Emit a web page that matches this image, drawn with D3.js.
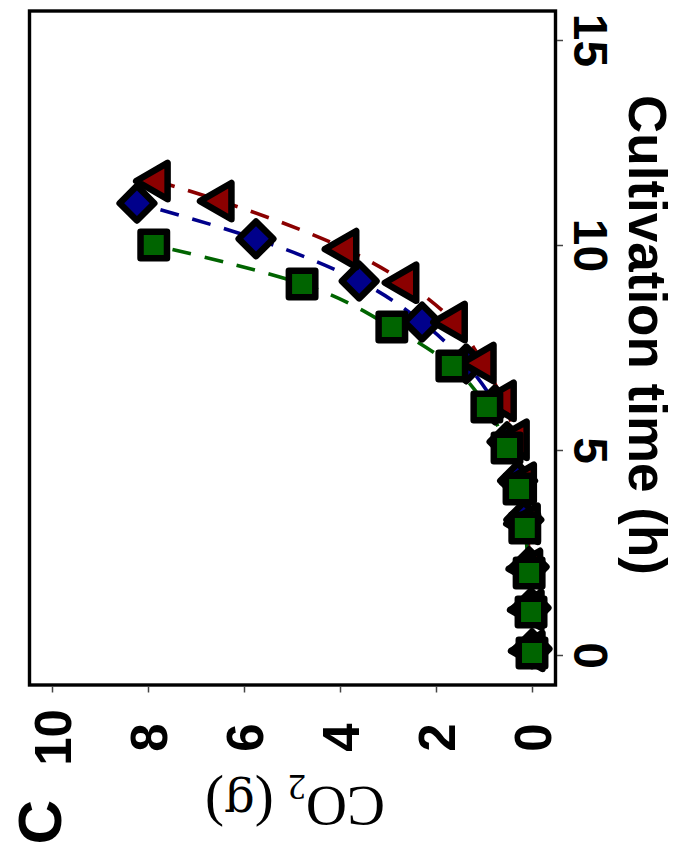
<!DOCTYPE html>
<html>
<head>
<meta charset="utf-8">
<script src="https://cdn.jsdelivr.net/npm/d3@7"></script>
<style>
  html, body { margin: 0; padding: 0; background: #fff; }
  svg { display: block; }
</style>
</head>
<body>
<svg id="chart" width="690" height="850"></svg>
<script>
// Cumulative CO2 released (g) against cultivation time (h) for three cultures.
// Each row: [time (h), CO2 (g)]
const greenSquares = [
  [0.05, 0.00], [1.05, 0.02], [2.00, 0.06], [3.10, 0.15], [4.05, 0.27],
  [5.05, 0.52], [6.05, 0.94], [7.05, 1.67], [8.00, 2.92], [9.05, 4.79],
  [10.00, 7.88]
];
const blueDiamonds = [
  [0.15, 0.00], [1.15, 0.02], [2.15, 0.06], [3.30, 0.17], [4.25, 0.30],
  [5.20, 0.52], [6.10, 0.77], [7.10, 1.37], [8.12, 2.29], [9.12, 3.60],
  [10.15, 5.75], [11.02, 8.23]
];
const redTriangles = [
  [0.10, 0.00], [1.10, 0.02], [2.10, 0.05], [3.20, 0.10], [4.20, 0.18],
  [5.25, 0.33], [6.20, 0.60], [7.12, 1.02], [8.12, 1.62], [9.08, 2.63],
  [9.90, 3.88], [11.07, 6.48], [11.56, 7.81]
];
const timeTicks = [0, 5, 10, 15];
const co2Ticks = [0, 2, 4, 6, 8, 10];

const series = [
  { name: "red",   data: redTriangles, color: "#8b0000", shape: "triangle" },
  { name: "blue",  data: blueDiamonds, color: "#00008b", shape: "diamond" },
  { name: "green", data: greenSquares, color: "#006400", shape: "square" }
];

const svg = d3.select("#chart");

// Frame of the plot area (the panel is laid out turned on its side:
// time runs upward along the right edge, CO2 grows to the left).
const frame = { left: 29.5, right: 555.5, top: 11, bottom: 685 };

const t = d3.scaleLinear().domain([0, 15]).range([655, 40]);   // time -> screen y
const c = d3.scaleLinear().domain([0, 10]).range([532, 52]);   // CO2  -> screen x

// Fitted trends, dashed
const line = d3.line()
  .x(d => c(d[1]))
  .y(d => t(d[0]))
  .curve(d3.curveMonotoneY);

svg.append("g").selectAll("path")
  .data(series)
  .join("path")
  .attr("d", s => line(s.data))
  .attr("fill", "none")
  .attr("stroke", s => s.color)
  .attr("stroke-width", 3.6)
  .attr("stroke-dasharray", "19,14");

// Markers
const symbolFor = {
  square:   { type: d3.symbolSquare,   size: 700, rot: 0 },
  diamond:  { type: d3.symbolSquare,   size: 600, rot: 45 },
  triangle: { type: d3.symbolTriangle, size: 570, rot: -90 }
};

// blue first, then red, then green on top
const drawOrder = [series[1], series[0], series[2]];
drawOrder.forEach(s => {
  const sym = symbolFor[s.shape];
  svg.append("g").selectAll("path")
    .data(s.data)
    .join("path")
    .attr("d", d3.symbol().type(sym.type).size(sym.size)())
    .attr("transform", d => `translate(${c(d[1])},${t(d[0])}) rotate(${sym.rot})`)
    .attr("fill", s.color)
    .attr("stroke", "#000")
    .attr("stroke-width", 6.5)
    .attr("stroke-linejoin", "round");
});

// Frame
svg.append("rect")
  .attr("x", frame.left)
  .attr("y", frame.top)
  .attr("width", frame.right - frame.left)
  .attr("height", frame.bottom - frame.top)
  .attr("fill", "none")
  .attr("stroke", "#000")
  .attr("stroke-width", 3.4);

const sans = "'Liberation Sans', Arial, sans-serif";

// Time axis on the right edge
const timeAxis = svg.append("g")
  .attr("transform", `translate(${frame.right + 1.5},0)`)
  .call(d3.axisRight(t).tickValues(timeTicks).tickSize(6).tickFormat(d3.format("d")));
timeAxis.select(".domain").remove();
timeAxis.selectAll(".tick line").attr("stroke", "#444").attr("stroke-width", 1.5);
timeAxis.selectAll(".tick text")
  .attr("x", 0).attr("y", 0).attr("dy", null)
  .attr("transform", "translate(17,0) rotate(90)")
  .attr("text-anchor", "middle")
  .style("font-family", sans)
  .style("font-weight", "bold")
  .style("font-size", "48px")
  .attr("fill", "#000");

// CO2 axis along the bottom edge
const co2Axis = svg.append("g")
  .attr("transform", `translate(0,${frame.bottom + 1.5})`)
  .call(d3.axisBottom(c).tickValues(co2Ticks).tickSize(6).tickFormat(d3.format("d")));
co2Axis.select(".domain").remove();
co2Axis.selectAll(".tick line").attr("stroke", "#444").attr("stroke-width", 1.5);
co2Axis.selectAll(".tick text")
  .attr("x", 0).attr("y", 0).attr("dy", null)
  .attr("transform", "translate(18,51) rotate(-90)")
  .attr("text-anchor", "middle")
  .style("font-family", sans)
  .style("font-weight", "bold")
  .style("font-size", "51px")
  .attr("fill", "#000");

// Axis titles
svg.append("text")
  .attr("transform", "translate(629,335) rotate(90)")
  .attr("text-anchor", "middle")
  .style("font-family", sans)
  .style("font-weight", "bold")
  .style("font-size", "53px")
  .text("Cultivation time (h)");

const co2Title = svg.append("text")
  .attr("transform", "translate(295,787) rotate(180)")
  .attr("text-anchor", "middle")
  .style("font-family", "'Liberation Serif', 'Times New Roman', serif")
  .style("font-size", "57px");
co2Title.append("tspan").text("CO");
co2Title.append("tspan").attr("dy", 12).style("font-size", "36px").text("2");
co2Title.append("tspan").attr("dy", -12).text(" (");
co2Title.append("tspan").style("font-family", "'DejaVu Serif', serif").style("font-size", "48px").text("g");
co2Title.append("tspan").text(")");

// Panel letter
svg.append("text")
  .attr("transform", "translate(61,822) rotate(-90)")
  .attr("text-anchor", "middle")
  .style("font-family", sans)
  .style("font-weight", "bold")
  .style("font-size", "62px")
  .text("C");
</script>
</body>
</html>
